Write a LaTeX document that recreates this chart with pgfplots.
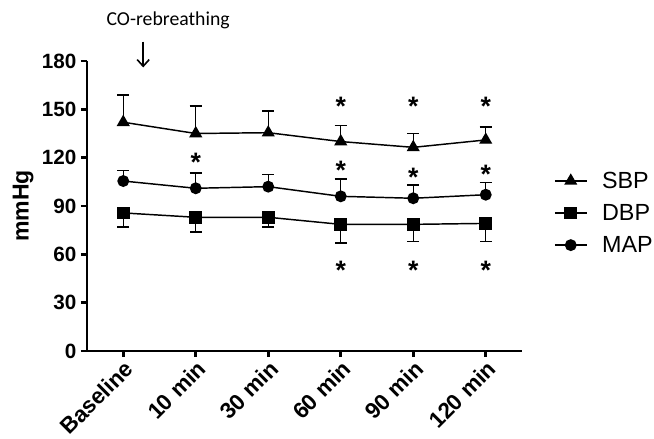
\documentclass[border=0pt]{standalone}
\usepackage{pgfplots}
\pgfplotsset{compat=1.18}
\usepackage{fontspec}
\setmainfont{Liberation Sans}
\newfontfamily\calibri{Carlito}
\usetikzlibrary{arrows.meta}

\pgfplotstableread{
x   sbp  sbpe  dbp  dbpe  map   mape
0   142  17    85.7 8.7   105.5 6.5
1   135  17    83   9     101   9.5
2   135.5 13.5 83   6     102   7.4
3   130  10    78.6 11.6  96    10.8
4   126.4 8.6  78.6 10.6  94.8  8.2
5   131  8     79.2 11.2  97    7.7
}\bp

\begin{document}
\begin{tikzpicture}
\begin{axis}[
    scale only axis,
    width=326.25pt, height=217.5pt,
    xmin=-0.5, xmax=5.5,
    ymin=0, ymax=180,
    axis lines=left,
    axis line style={line width=2.2pt, -},
    tick align=outside,
    major tick length=4.5pt,
    tick style={line width=2pt, black},
    ytick={0,30,...,180},
    xtick={0,...,5},
    xticklabels={Baseline,10 min,30 min,60 min,90 min,120 min},
    /pgf/number format/assume math mode=true,
    y tick label style={font=\bfseries\fontsize{15.5}{18}\selectfont},
    x tick label style={rotate=45, anchor=north east, inner sep=1pt,
        font=\bfseries\fontsize{16.8}{20}\selectfont},
    ylabel={mmHg},
    every axis y label/.style={at={(axis description cs:-0.147,0.5)}, rotate=90, anchor=center,
        font=\bfseries\fontsize{17.3}{20}\selectfont},
    clip=false,
    legend style={draw=none, at={(1.064,0.476)}, anchor=west,
        font=\fontsize{17.5}{20}\selectfont, row sep=6.5pt,
        /tikz/every odd column/.append style={column sep=9pt}},
    legend cell align=left,
    legend image code/.code={\draw[mark repeat=2,mark phase=2,#1] plot coordinates {(0cm,0cm) (0.42cm,0cm) (0.84cm,0cm)};},
]
\addplot[black, line width=1.1pt, mark=triangle*, mark size=4.6pt, mark options={solid, fill=black},
    error bars/.cd, y dir=plus, y explicit,
    error bar style={line width=1.1pt},
    error mark options={rotate=90, mark size=4.5pt, line width=1.1pt}]
    table[x=x, y=sbp, y error=sbpe] {\bp};
\addplot[black, line width=1.1pt, mark=square*, mark size=4.2pt, mark options={solid, fill=black},
    error bars/.cd, y dir=minus, y explicit,
    error bar style={line width=1.1pt},
    error mark options={rotate=90, mark size=4.5pt, line width=1.1pt}]
    table[x=x, y=dbp, y error=dbpe] {\bp};
\addplot[black, line width=1.1pt, mark=*, mark size=3.9pt, mark options={solid, fill=black},
    error bars/.cd, y dir=plus, y explicit,
    error bar style={line width=1.1pt},
    error mark options={rotate=90, mark size=4.5pt, line width=1.1pt}]
    table[x=x, y=map, y error=mape] {\bp};
\legend{SBP,DBP,MAP}
% significance markers
\addplot[only marks, mark=text, text mark={\bfseries\fontsize{20}{20}\selectfont *}] coordinates {
    (3,152) (4,152) (5,152)
    (1,117.4) (3,112.3) (4,107.8) (5,109.8)
    (3,50.2) (4,50.2) (5,50.2)
};
\draw[-{Straight Barb[length=5pt, width=9pt]}, line width=1.2pt]
    (axis cs:0.275,192) -- (axis cs:0.275,176);
\node[font=\calibri\fontsize{14.8}{17}\selectfont] at (axis cs:0.62,205) {CO-rebreathing};
\end{axis}
\pgfresetboundingbox
\path[use as bounding box] (-65.25pt,-66pt) rectangle (425.25pt,263.25pt);
\end{tikzpicture}
\end{document}
